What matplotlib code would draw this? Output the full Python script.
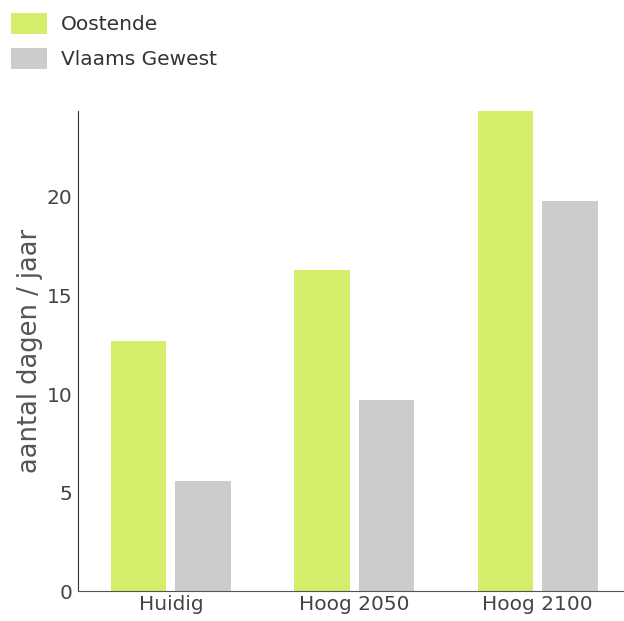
import numpy as np
import matplotlib.pyplot as plt
from matplotlib.patches import Patch

categories = ["Huidig", "Hoog 2050", "Hoog 2100"]
oostende = [12.7, 16.3, 24.35]
vlaams = [5.6, 9.7, 19.8]
series_names = ["Oostende", "Vlaams Gewest"]
yticks = [0, 5, 10, 15, 20]

green = "#d4ee6b"
grey = "#cccccc"
txt = "#444444"

def main():
  plt.rcParams['font.family'] = ['DejaVu Sans']
  fig = plt.figure(figsize=(6.24, 6.21), dpi=100)
  ax = fig.add_axes([0.125, 0.048, 0.875, 0.773])

  x = np.arange(len(categories))
  w = 0.303
  ax.bar(x - 0.176, oostende, width=w, color=green, zorder=2)
  ax.bar(x + 0.176, vlaams, width=w, color=grey, zorder=2)

  ax.set_xlim(-0.507, 2.47)
  ax.set_ylim(0, max(oostende))
  ax.set_xticks(x)
  ax.set_xticklabels(categories)
  ax.set_yticks(yticks)
  ax.tick_params(length=0, labelsize=14.5, colors=txt)
  ax.tick_params(axis='y', pad=4)
  ax.tick_params(axis='x', pad=3)
  for s in ["top", "right"]:
    ax.spines[s].set_visible(False)
  ax.spines["left"].set_color("#333333")
  ax.spines["bottom"].set_color("#555555")
  ax.set_ylabel("aantal dagen / jaar", fontsize=18.5, color="#555555", labelpad=3)

  handles = [Patch(facecolor=green, label=series_names[0]),
             Patch(facecolor=grey, label=series_names[1])]
  leg = fig.legend(handles=handles, loc="upper left", bbox_to_anchor=(-0.004, 1.0),
                   frameon=False, fontsize=14.5, handlelength=1.8, handleheight=1.2,
                   handletextpad=0.7, labelspacing=0.7, borderaxespad=0.25)
  for t in leg.get_texts():
    t.set_color("#333333")

  fig.savefig("out.png", dpi=100)

if __name__ == '__main__':
  main()
